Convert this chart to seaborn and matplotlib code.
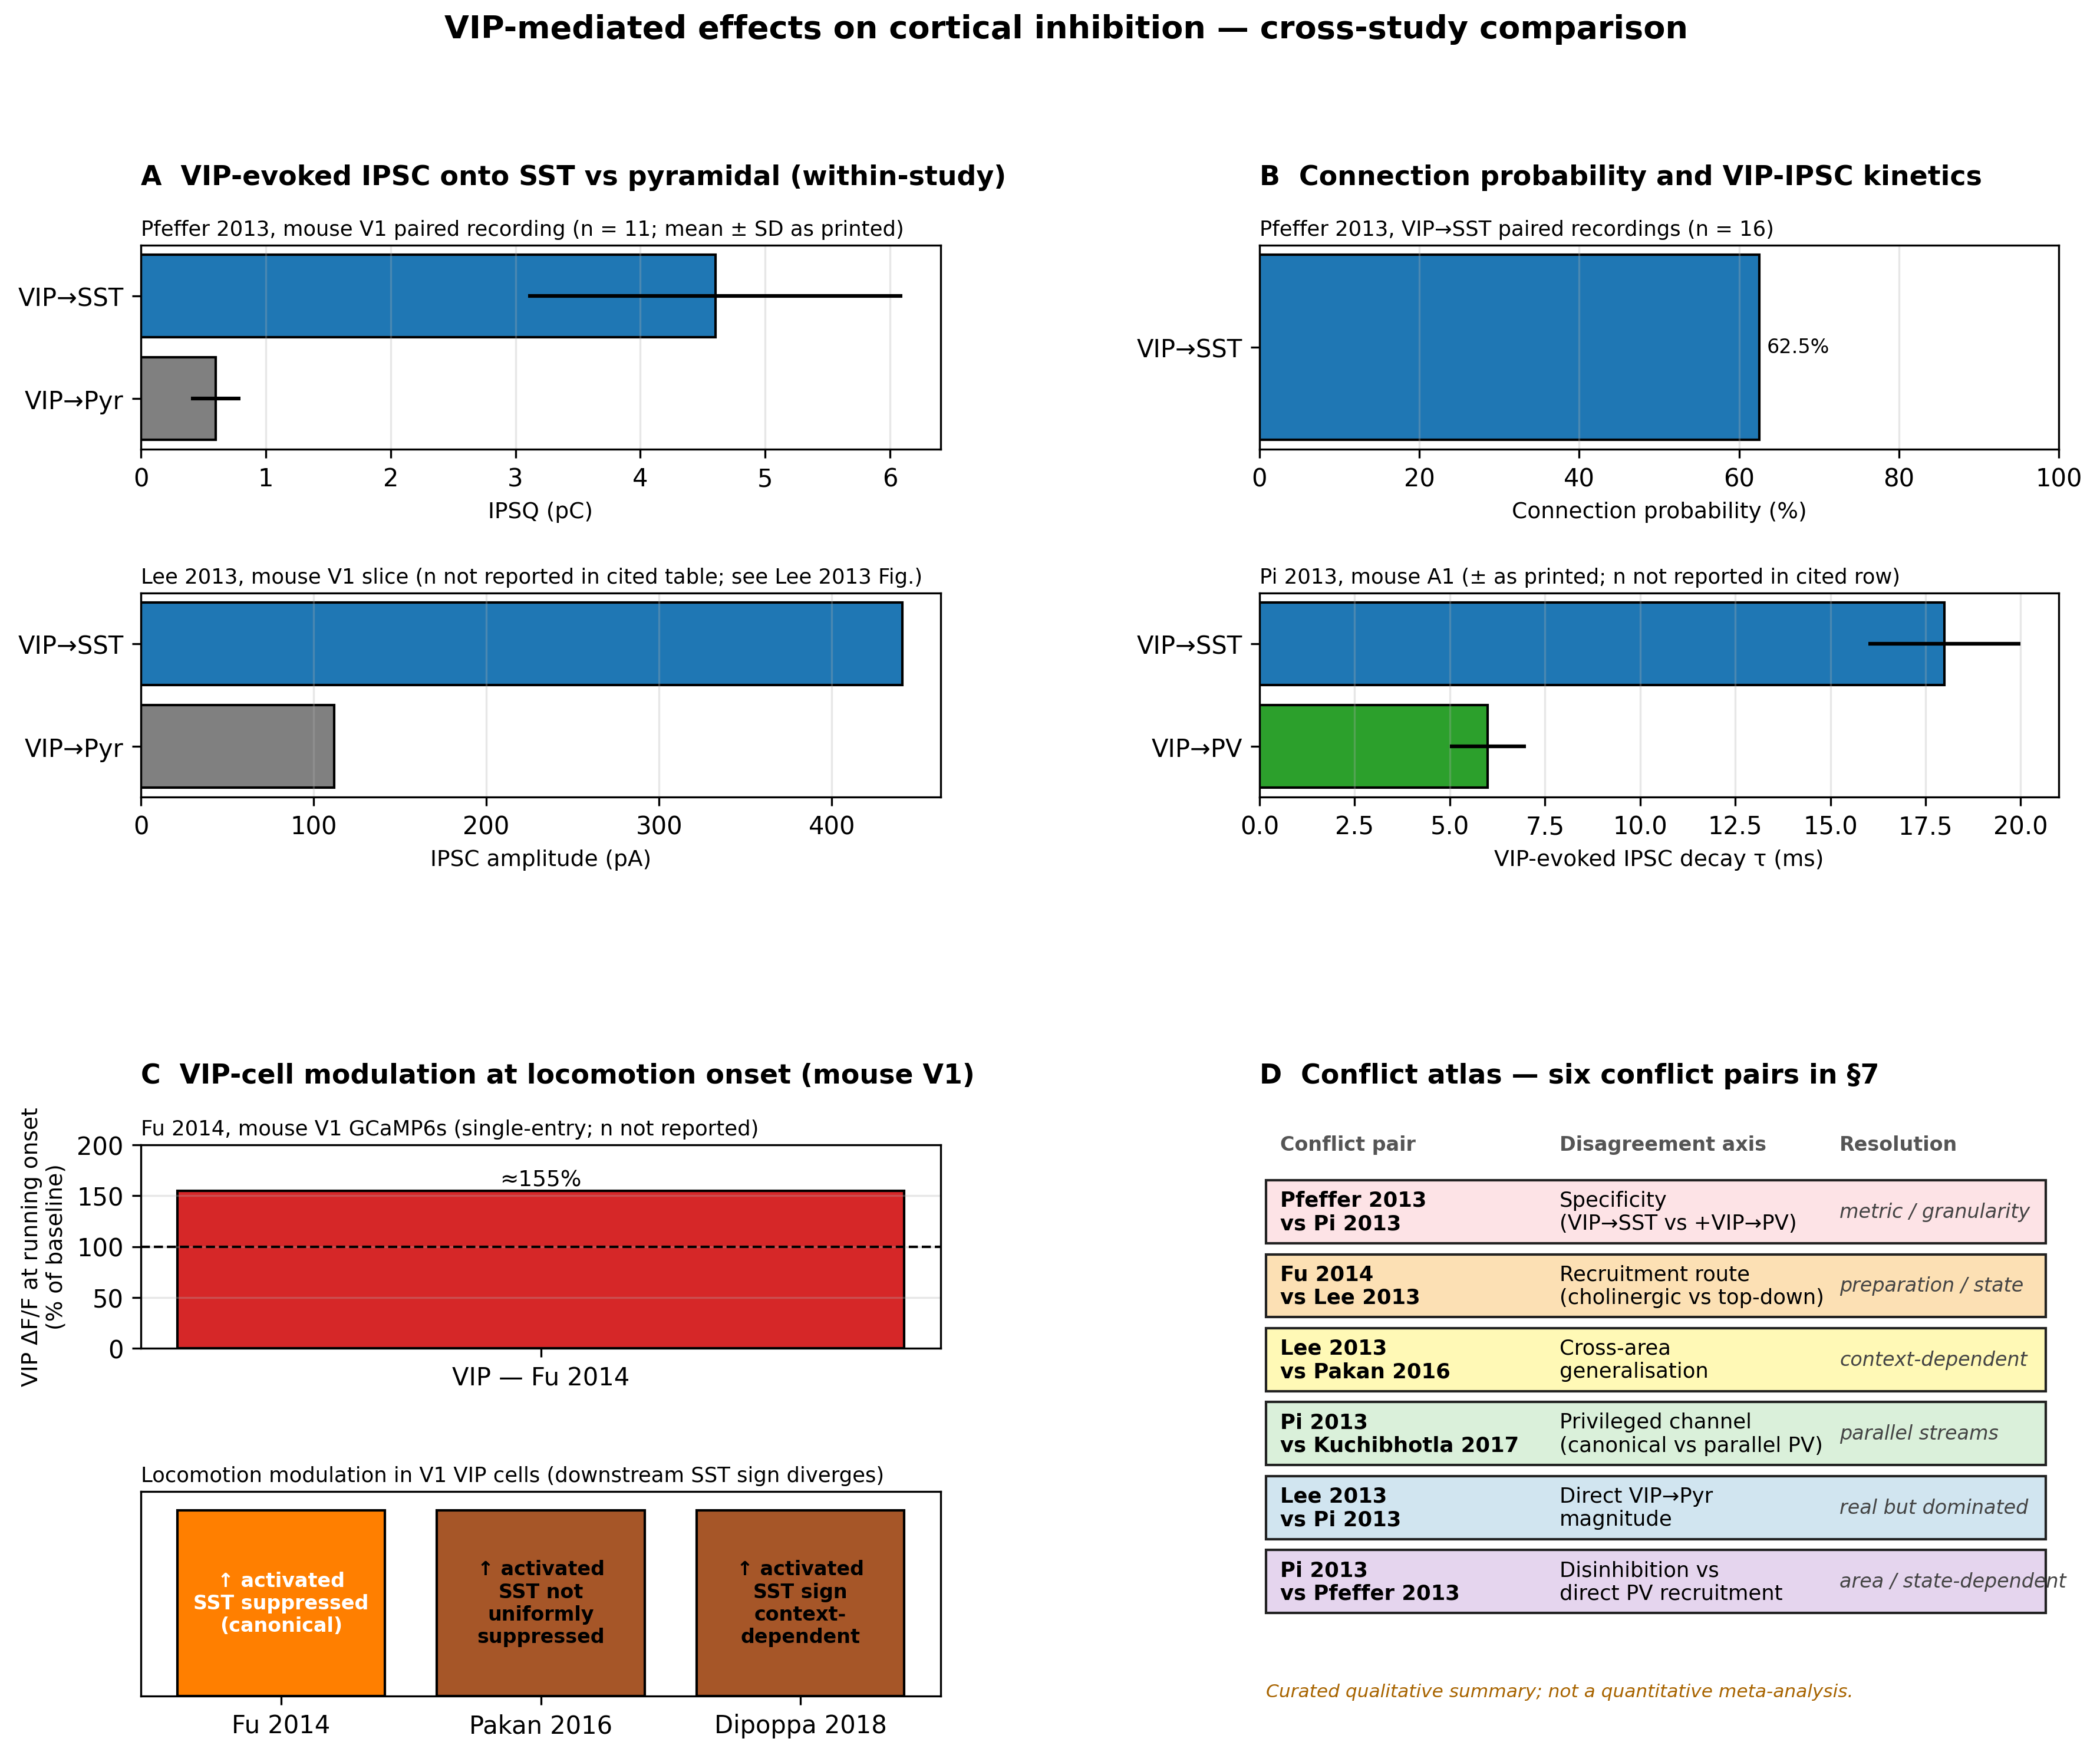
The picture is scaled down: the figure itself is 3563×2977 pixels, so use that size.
import numpy as np
import pandas as pd
import matplotlib
matplotlib.use("Agg")
import matplotlib.pyplot as plt
from matplotlib.patches import Rectangle
import seaborn as sns

# ---------------- data ----------------
a1_labels = ["VIP→SST", "VIP→Pyr"]
a1_vals = [4.6, 0.6]
a1_err = [1.5, 0.2]

a2_labels = ["VIP→SST", "VIP→Pyr"]
a2_vals = [441, 112]

b1_labels = ["VIP→SST"]
b1_vals = [62.5]

b2_labels = ["VIP→SST", "VIP→PV"]
b2_vals = [18.0, 6.0]
b2_err = [2.0, 1.0]

c1_labels = ["VIP — Fu 2014"]
c1_vals = [155]
c1_baseline = 100

c2_studies = ["Fu 2014", "Pakan 2016", "Dipoppa 2018"]
c2_heights = [1, 1, 1]
c2_texts = ["↑ activated\nSST suppressed\n(canonical)",
            "↑ activated\nSST not\nuniformly\nsuppressed",
            "↑ activated\nSST sign\ncontext-\ndependent"]

d_headers = ["Conflict pair", "Disagreement axis", "Resolution"]
d_pairs = ["Pfeffer 2013\nvs Pi 2013", "Fu 2014\nvs Lee 2013", "Lee 2013\nvs Pakan 2016",
           "Pi 2013\nvs Kuchibhotla 2017", "Lee 2013\nvs Pi 2013", "Pi 2013\nvs Pfeffer 2013"]
d_axis = ["Specificity\n(VIP→SST vs +VIP→PV)", "Recruitment route\n(cholinergic vs top-down)",
          "Cross-area\ngeneralisation", "Privileged channel\n(canonical vs parallel PV)",
          "Direct VIP→Pyr\nmagnitude", "Disinhibition vs\ndirect PV recruitment"]
d_res = ["metric / granularity", "preparation / state", "context-dependent",
         "parallel streams", "real but dominated", "area / state-dependent"]

# ---------------- style ----------------
C_SST = "#1f77b4"
C_PYR = "#808080"
C_PV = "#2ca02c"
C_RED = "#d62728"
C_ORANGE = "#ff7f00"
C_BROWN = "#a65628"
D_COLORS = ["#fde3e6", "#fce0b4", "#fff9b6", "#daf0da", "#d1e5f0", "#e5d5ee"]

plt.rcParams["font.family"] = ["DejaVu Sans"]
plt.rcParams["xtick.labelsize"] = 10
plt.rcParams["ytick.labelsize"] = 10

W, H = 3563, 2978
fig = plt.figure(figsize=(W / 300, H / 300), dpi=300)


def ax_at(x0, y0, x1, y1):
    return fig.add_axes([x0 / W, 1 - y1 / H, (x1 - x0) / W, (y1 - y0) / H])


LX0, LX1 = 239, 1596
RX0, RX1 = 2137, 3493

axA1 = ax_at(LX0, 417, LX1, 763)
axA2 = ax_at(LX0, 1007, LX1, 1353)
axB1 = ax_at(RX0, 417, RX1, 763)
axB2 = ax_at(RX0, 1007, RX1, 1353)
axC1 = ax_at(LX0, 1943, LX1, 2288)
axC2 = ax_at(LX0, 2531, LX1, 2878)
axD = ax_at(RX0, 1943, RX1, 2878)

SUB_FS = 8.5
LAB_FS = 9


def hbar(ax, labels, vals, colors, err=None):
    df = pd.DataFrame({"lab": labels, "val": vals})
    pal = dict(zip(labels, colors))
    sns.barplot(data=df, x="val", y="lab", hue="lab", palette=pal, legend=False,
                orient="h", width=0.8, edgecolor="black", linewidth=1.0,
                saturation=1, ax=ax)
    if err is not None:
        ax.errorbar(vals, np.arange(len(labels)), xerr=err, fmt="none",
                    ecolor="black", elinewidth=1.5, capsize=0, zorder=3)
    n = len(labels)
    pad = 0.04 if n == 1 else 0.09
    ax.set_ylim(n - 1 + 0.4 + pad, -0.4 - pad)
    ax.set_ylabel("")
    ax.grid(axis="x", alpha=0.3)
    ax.grid(axis="y", visible=False)
    for s in ax.spines.values():
        s.set_visible(True)


# ---- Panel A ----
hbar(axA1, a1_labels, a1_vals, [C_SST, C_PYR], a1_err)
axA1.set_xlim(0, max(np.array(a1_vals) + np.array(a1_err)) * 1.05)
axA1.set_xlabel("IPSQ (pC)", fontsize=LAB_FS)
axA1.set_title("Pfeffer 2013, mouse V1 paired recording (n = 11; mean ± SD as printed)",
               loc="left", fontsize=SUB_FS, pad=4)

hbar(axA2, a2_labels, a2_vals, [C_SST, C_PYR])
axA2.set_xlim(0, max(a2_vals) * 1.05)
axA2.set_xlabel("IPSC amplitude (pA)", fontsize=LAB_FS)
axA2.set_title("Lee 2013, mouse V1 slice (n not reported in cited table; see Lee 2013 Fig.)",
               loc="left", fontsize=SUB_FS, pad=4)

# ---- Panel B ----
hbar(axB1, b1_labels, b1_vals, [C_SST])
axB1.set_xlim(0, 100)
axB1.set_xlabel("Connection probability (%)", fontsize=LAB_FS)
axB1.set_title("Pfeffer 2013, VIP→SST paired recordings (n = 16)",
               loc="left", fontsize=SUB_FS, pad=4)
for i, v in enumerate(b1_vals):
    axB1.text(v + 1, i, f"{v}%", va="center", ha="left", fontsize=8)

hbar(axB2, b2_labels, b2_vals, [C_SST, C_PV], b2_err)
axB2.set_xlim(0, max(np.array(b2_vals) + np.array(b2_err)) * 1.05)
axB2.set_xlabel("VIP-evoked IPSC decay τ (ms)", fontsize=LAB_FS)
axB2.set_title("Pi 2013, mouse A1 (± as printed; n not reported in cited row)",
               loc="left", fontsize=SUB_FS, pad=4)

# ---- Panel C top ----
dfc1 = pd.DataFrame({"lab": c1_labels, "val": c1_vals})
sns.barplot(data=dfc1, x="lab", y="val", color=C_RED, saturation=1, width=0.8,
            edgecolor="black", linewidth=1.0, ax=axC1)
axC1.set_xlim(-0.44, 0.44)
axC1.set_ylim(0, 200)
axC1.set_yticks([0, 50, 100, 150, 200])
axC1.grid(axis="y", alpha=0.3)
axC1.grid(axis="x", visible=False)
axC1.axhline(c1_baseline, color="black", ls="--", lw=1.0, zorder=3)
for i, v in enumerate(c1_vals):
    axC1.text(i, v, f"≈{v}%", ha="center", va="bottom", fontsize=9)
axC1.set_xlabel("")
axC1.set_ylabel("VIP ΔF/F at running onset\n(% of baseline)", fontsize=LAB_FS)
axC1.set_title("Fu 2014, mouse V1 GCaMP6s (single-entry; n not reported)",
               loc="left", fontsize=SUB_FS, pad=4)

# ---- Panel C bottom ----
dfc2 = pd.DataFrame({"study": c2_studies, "h": c2_heights})
pal_c2 = dict(zip(c2_studies, [C_ORANGE, C_BROWN, C_BROWN]))
sns.barplot(data=dfc2, x="study", y="h", hue="study", palette=pal_c2, legend=False,
            saturation=1, width=0.8, edgecolor="black", linewidth=1.0, ax=axC2)
axC2.set_xlim(-0.54, len(c2_studies) - 1 + 0.54)
axC2.set_ylim(0, 1.1)
axC2.set_yticks([])
axC2.set_xlabel("")
axC2.set_ylabel("")
txt_colors = ["white", "black", "black"]
for i, (t, c) in enumerate(zip(c2_texts, txt_colors)):
    axC2.text(i, c2_heights[i] / 2, t, ha="center", va="center", fontsize=8,
              fontweight="bold", color=c)
axC2.set_title("Locomotion modulation in V1 VIP cells (downstream SST sign diverges)",
               loc="left", fontsize=SUB_FS, pad=4)

# ---- Panel D ----
axD.set_xlim(0, 1)
axD.set_ylim(0, 1)
axD.axis("off")
col_x = [0.0258, 0.375, 0.7257]
for x, h in zip(col_x, d_headers):
    axD.text(x, 1.0, h, fontsize=8, fontweight="bold", color="#555555",
             ha="left", va="center")
row_top_c = 0.8786
pitch = 0.1342
box_h = 0.1144
box_x0, box_w = 0.008, 0.9758
for i in range(len(d_pairs)):
    yc = row_top_c - i * pitch
    axD.add_patch(Rectangle((box_x0, yc - box_h / 2), box_w, box_h,
                            facecolor=D_COLORS[i], edgecolor="#222222", lw=1.0,
                            transform=axD.transAxes, clip_on=False))
    axD.text(col_x[0], yc, d_pairs[i], fontsize=8.5, fontweight="bold",
             ha="left", va="center", color="black")
    axD.text(col_x[1], yc, d_axis[i], fontsize=8.5, ha="left", va="center",
             color="black")
    axD.text(col_x[2], yc, d_res[i], fontsize=8, style="italic", ha="left",
             va="center", color="#444444")
axD.text(0.008, 0.0075, "Curated qualitative summary; not a quantitative meta-analysis.",
         fontsize=7.5, style="italic", color="#a86400", ha="left", va="center")

# ---- titles ----
fig.text(1809 / W, 1 - 50 / H,
         "VIP-mediated effects on cortical inhibition — cross-study comparison",
         ha="center", va="center", fontsize=13, fontweight="bold")
fig.text(LX0 / W, 1 - 302 / H, "A  VIP-evoked IPSC onto SST vs pyramidal (within-study)",
         ha="left", va="center", fontsize=11, fontweight="bold")
fig.text(RX0 / W, 1 - 302 / H, "B  Connection probability and VIP-IPSC kinetics",
         ha="left", va="center", fontsize=11, fontweight="bold")
fig.text(LX0 / W, 1 - 1826 / H, "C  VIP-cell modulation at locomotion onset (mouse V1)",
         ha="left", va="center", fontsize=11, fontweight="bold")
fig.text(RX0 / W, 1 - 1826 / H, "D  Conflict atlas — six conflict pairs in §7",
         ha="left", va="center", fontsize=11, fontweight="bold")

fig.savefig("out.png", dpi=300)
